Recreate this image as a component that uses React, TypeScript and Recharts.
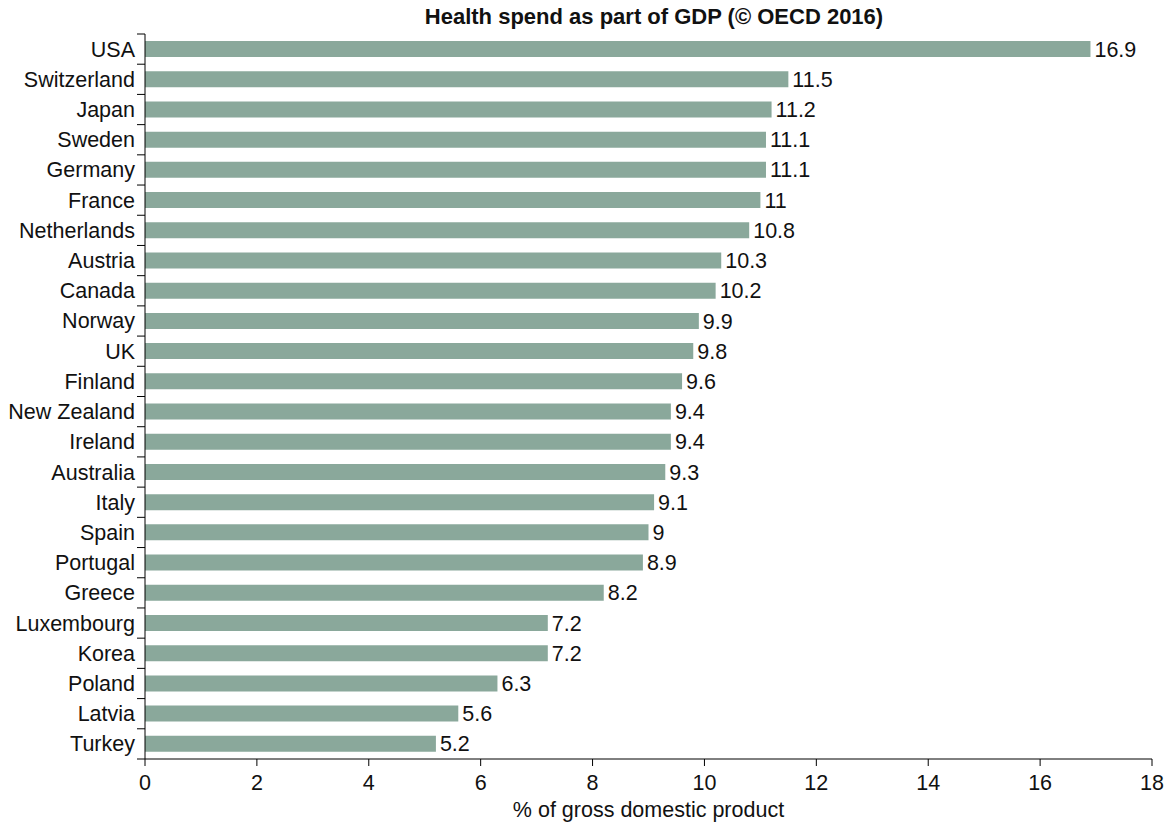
import React from 'react';
import { BarChart, Bar, XAxis, YAxis, LabelList } from 'recharts';

const countries = [
  'USA', 'Switzerland', 'Japan', 'Sweden', 'Germany', 'France', 'Netherlands',
  'Austria', 'Canada', 'Norway', 'UK', 'Finland', 'New Zealand', 'Ireland',
  'Australia', 'Italy', 'Spain', 'Portugal', 'Greece', 'Luxembourg', 'Korea',
  'Poland', 'Latvia', 'Turkey',
];

const spend = [
  16.9, 11.5, 11.2, 11.1, 11.1, 11, 10.8, 10.3, 10.2, 9.9, 9.8, 9.6, 9.4, 9.4,
  9.3, 9.1, 9, 8.9, 8.2, 7.2, 7.2, 6.3, 5.6, 5.2,
];

const xTicks = [0, 2, 4, 6, 8, 10, 12, 14, 16, 18];

const data = countries.map((country, i) => ({ country, spend: spend[i] }));

const WIDTH = 1166;
const HEIGHT = 823;
const MARGIN = { top: 34, right: 14, bottom: 0, left: 0 };
const X_AXIS_HEIGHT = 64;
const BAND = (HEIGHT - MARGIN.top - MARGIN.bottom - X_AXIS_HEIGHT) / countries.length;
const FONT = "'Liberation Sans', Arial, Helvetica, sans-serif";
const FS = 21.5;

const CountryTick = (props: any) => {
  const { x, y, payload, index } = props;
  const axisX = x + 10;
  const last = index === countries.length - 1;
  return (
    <g>
      <line x1={axisX - 8} x2={axisX} y1={y - BAND / 2} y2={y - BAND / 2} stroke='#000' />
      {last && (
        <line x1={axisX - 8} x2={axisX} y1={y + BAND / 2} y2={y + BAND / 2} stroke='#000' />
      )}
      <text x={x} y={y} dy={7.5} textAnchor='end' fontSize={FS} fill='#111'>
        {payload.value}
      </text>
    </g>
  );
};

export default function App() {
  return (
    <div
      style={{
        position: 'absolute',
        left: 0,
        top: 0,
        width: WIDTH,
        height: HEIGHT,
        background: '#fff',
        fontFamily: FONT,
      }}
    >
      <div
        style={{
          position: 'absolute',
          top: 4,
          left: 154,
          width: 1000,
          textAlign: 'center',
          fontWeight: 'bold',
          fontSize: 22,
          color: '#111',
          lineHeight: '25px',
        }}
      >
        Health spend as part of GDP (© OECD 2016)
      </div>
      <BarChart
        width={WIDTH}
        height={HEIGHT}
        data={data}
        layout='vertical'
        margin={MARGIN}
        barCategoryGap={0}
        style={{ fontFamily: FONT }}
      >
        <XAxis
          type='number'
          domain={[0, 18]}
          ticks={xTicks}
          height={X_AXIS_HEIGHT}
          tickSize={7}
          tickMargin={9}
          stroke='#000'
          tick={{ fill: '#111', fontSize: FS }}
          label={{
            value: '% of gross domestic product',
            position: 'insideBottom',
            offset: 6,
            fill: '#111',
            fontSize: FS,
          }}
        />
        <YAxis
          type='category'
          dataKey='country'
          width={145}
          tickSize={8}
          tickMargin={2}
          tickLine={false}
          stroke='#000'
          interval={0}
          tick={<CountryTick />}
        />
        <Bar
          dataKey='spend'
          fill='#8aa89b'
          barSize={16}
          isAnimationActive={false}
        >
          <LabelList
            dataKey='spend'
            position='right'
            offset={4}
            fill='#111'
            fontSize={FS}
          />
        </Bar>
      </BarChart>
    </div>
  );
}
